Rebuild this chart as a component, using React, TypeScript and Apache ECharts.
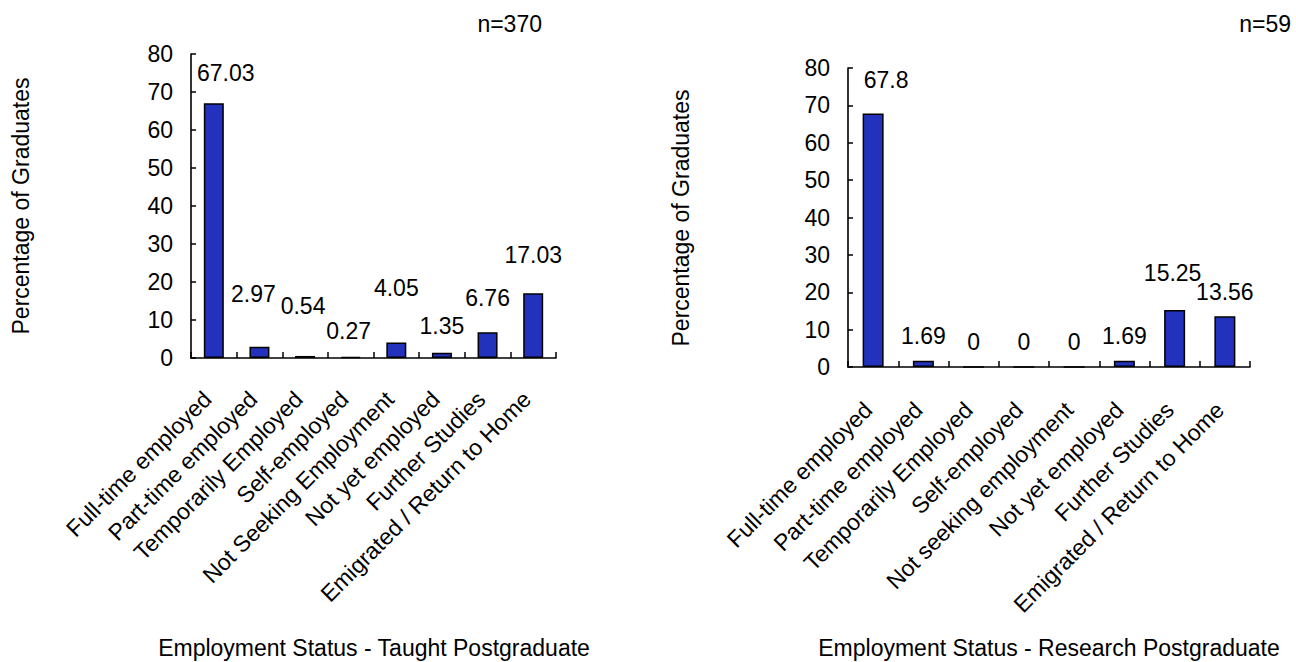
import React, { useEffect, useRef } from "react";
import * as echarts from "echarts";

const taughtCategories = [
  "Full-time employed",
  "Part-time employed",
  "Temporarily Employed",
  "Self-employed",
  "Not Seeking Employment",
  "Not yet employed",
  "Further Studies",
  "Emigrated / Return to Home",
];
const taughtValues = [67.03, 2.97, 0.54, 0.27, 4.05, 1.35, 6.76, 17.03];

const researchCategories = [
  "Full-time employed",
  "Part-time employed",
  "Temporarily Employed",
  "Self-employed",
  "Not seeking employment",
  "Not yet employed",
  "Further Studies",
  "Emigrated / Return to Home",
];
const researchValues = [67.8, 1.69, 0, 0, 0, 1.69, 15.25, 13.56];

const yTicks = { min: 0, max: 80, interval: 10 };

// label nudges (layout only)
const taughtLabelNudge = [[12, -14], [-6, -36], [-2, -33], [-2, -9], [0, -38], [0, -10], [0, -18], [0, -22]];
const researchLabelNudge = [[13, -17], [0, -8], [0, -8], [0, -8], [0, -8], [0, -8], [-2, -21], [0, -8]];

const FONT = "'Liberation Sans', Arial, sans-serif";
const FS = 23;
const BAR = "#2232BC";

export default function App() {
  const ref = useRef<HTMLDivElement>(null);
  useEffect(() => {
    if (!ref.current) return;
    const chart = echarts.init(ref.current, null, { renderer: "svg" });

    const yAxisBase = (gridIndex: number) => ({
      type: "value",
      gridIndex,
      min: yTicks.min,
      max: yTicks.max,
      interval: yTicks.interval,
      axisLine: { show: true, lineStyle: { color: "#000", width: 1.6 } },
      axisTick: { show: true, inside: true, length: 5, lineStyle: { color: "#000", width: 1.5 } },
      axisLabel: { color: "#000", fontSize: FS, fontFamily: FONT, margin: 18 },
      splitLine: { show: false },
    });

    const xAxisBase = (gridIndex: number, cats: string[], margin: number, pad: number) => ({
      type: "category",
      gridIndex,
      data: cats,
      axisLine: { show: true, lineStyle: { color: "#000", width: 1.6 } },
      axisTick: { show: true, inside: true, length: 6, interval: 0, lineStyle: { color: "#000", width: 1.5 } },
      axisLabel: {
        interval: 0,
        rotate: 45,
        color: "#000",
        fontSize: FS,
        fontFamily: FONT,
        margin,
        padding: [0, pad, 0, 0],
      },
      splitLine: { show: false },
    });

    const barData = (vals: number[], nudges: number[][]) =>
      vals.map((v, i) => ({ value: v, label: { offset: nudges[i] } }));

    const barSeries = (idx: number, vals: number[], nudges: number[][], width: number) => ({
      type: "bar",
      xAxisIndex: idx,
      yAxisIndex: idx,
      barWidth: width,
      data: barData(vals, nudges),
      itemStyle: { color: BAR, borderColor: "#000", borderWidth: 1.5 },
      label: {
        show: true,
        position: "top",
        color: "#000",
        fontSize: FS,
        fontFamily: FONT,
      },
    });

    const txt = (text: string, x: number, y: number, align: string, rotation = 0) => ({
      type: "text",
      x,
      y,
      rotation,
      style: {
        text,
        fill: "#000",
        font: `${FS}px ${FONT}`,
        align,
        verticalAlign: "middle",
      },
    });

    chart.setOption({
      animation: false,
      backgroundColor: "#fff",
      grid: [
        { left: 191, top: 54, width: 365, height: 304 },
        { left: 848, top: 68, width: 402, height: 299 },
      ],
      xAxis: [xAxisBase(0, taughtCategories, 31, 9), xAxisBase(1, researchCategories, 34, 7)],
      yAxis: [yAxisBase(0), yAxisBase(1)],
      series: [
        barSeries(0, taughtValues, taughtLabelNudge, 20),
        barSeries(1, researchValues, researchLabelNudge, 21),
      ],
      graphic: [
        txt("Percentage of Graduates", 21, 206, "center", Math.PI / 2),
        txt("Percentage of Graduates", 681, 218, "center", Math.PI / 2),
        txt("Employment Status - Taught Postgraduate", 374, 648, "center"),
        txt("Employment Status - Research Postgraduate", 1049, 648, "center"),
        txt("n=370", 542, 24, "right"),
        txt("n=59", 1291, 24, "right"),
      ],
    });
    return () => chart.dispose();
  }, []);
  return (
    <div
      ref={ref}
      style={{ position: "fixed", left: 0, top: 0, width: 1296, height: 662, background: "#fff" }}
    />
  );
}
